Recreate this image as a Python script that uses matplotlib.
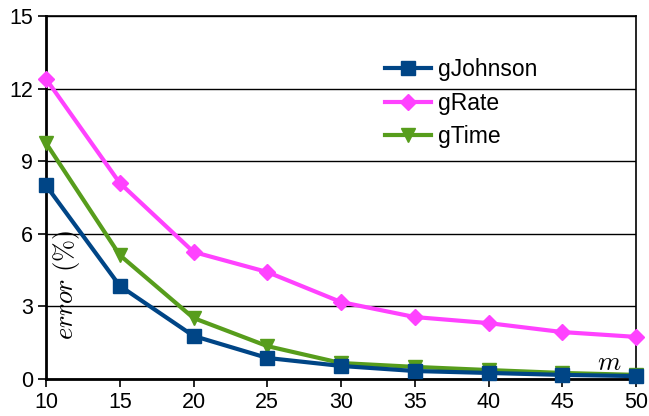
import matplotlib
matplotlib.use("Agg")
import matplotlib.pyplot as plt

m_values = [10, 15, 20, 25, 30, 35, 40, 45, 50]
g_johnson = [8.0, 3.85, 1.78, 0.87, 0.54, 0.33, 0.25, 0.17, 0.12]
g_rate = [12.4, 8.1, 5.25, 4.42, 3.18, 2.56, 2.31, 1.94, 1.74]
g_time = [9.75, 5.12, 2.52, 1.36, 0.66, 0.50, 0.37, 0.25, 0.17]

plt.rcParams['font.family'] = ['Liberation Sans', 'DejaVu Sans']
plt.rcParams['mathtext.fontset'] = 'cm'

fig = plt.figure(figsize=(6.49, 4.16), dpi=100)
ax = fig.add_axes([46/649, 1 - 379/416, (636-46)/649, (379-16)/416])

ax.plot(m_values, g_johnson, color='#004586', marker='s', markersize=10, lw=3,
        label='gJohnson', zorder=5, clip_on=False)
ax.plot(m_values, g_rate, color='#ff42ff', marker='D', markersize=8, lw=3,
        label='gRate', zorder=3, clip_on=False)
ax.plot(m_values, g_time, color='#579d1c', marker='v', markersize=10, lw=3,
        label='gTime', zorder=4, clip_on=False)

ax.set_xlim(10, 50)
ax.set_ylim(0, 15)
ax.set_xticks(m_values)
ax.set_yticks([0, 3, 6, 9, 12, 15])
ax.yaxis.grid(True, color='black', lw=1)
ax.set_axisbelow(True)
ax.tick_params(labelsize=15.5, direction='out', length=6, width=1.2, color='black')
for s in ax.spines.values():
    s.set_linewidth(1.2)
ax.spines['left'].set_linewidth(2)
ax.spines['bottom'].set_linewidth(2)

ax.text(0.034, 0.26, r'$error\ (\%)$', transform=ax.transAxes, rotation=90,
        fontsize=19, ha='center', va='center')
ax.text(0.955, 0.045, r'$m$', transform=ax.transAxes, fontsize=19,
        ha='center', va='center')

leg = ax.legend(loc='upper left', bbox_to_anchor=(0.54, 0.94), frameon=False,
                fontsize=16.5, handlelength=2.0, labelspacing=0.45, handletextpad=0.3)

fig.savefig('out.png', dpi=100)
